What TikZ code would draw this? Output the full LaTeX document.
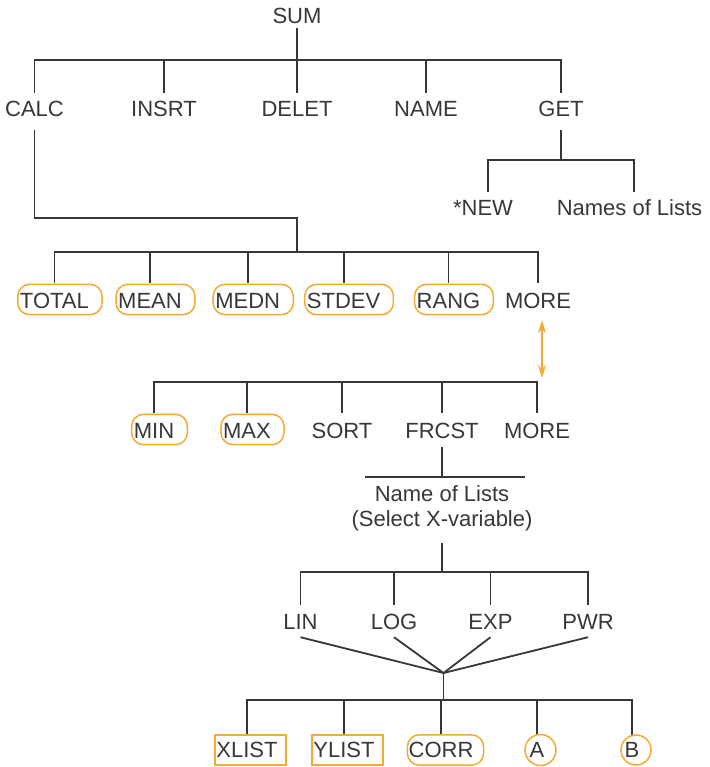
\documentclass[tikz,border=0pt]{standalone}
\usepackage{fontspec}
\setmainfont{Liberation Sans}
\usetikzlibrary{calc,arrows.meta}
\definecolor{ink}{RGB}{55,55,55}
\definecolor{hlor}{RGB}{243,170,52}
\begin{document}
\begin{tikzpicture}[x=1pt,y=-1pt,
  lab/.style={font=\fontsize{22}{25}\selectfont, text=ink, inner sep=0pt, text height=15pt, text depth=0pt},
  ln/.style={draw=ink, line width=1.8pt},
  hl/.style={draw=hlor, line width=1.5pt, rounded corners=12pt},
  hlbox/.style={draw=hlor, line width=1.5pt},
  oarr/.style={draw=hlor, line width=1.6pt, {Stealth[length=13pt,width=8pt]}-{Stealth[length=13pt,width=8pt]}}]
\useasboundingbox (0,0) rectangle (709,767);

% ---------- labels ----------
\node[lab] (sum) at (297,16) {SUM};
\node[lab] (calc) at (34.5,109) {CALC};
\node[lab] (insrt) at (164,109) {INSRT};
\node[lab] (delet) at (297,109) {DELET};
\node[lab] (name) at (426,109) {NAME};
\node[lab] (get) at (561,109) {GET};
\node[lab] (new) at (483,208) {*NEW};
\node[lab] (lists) at (629.5,208) {Names of Lists};

\node[lab] (total) at (54.4,301) {TOTAL};
\node[lab] (mean) at (150,301) {MEAN};
\node[lab] (medn) at (247.7,301) {MEDN};
\node[lab] (stdev) at (343.6,301) {STDEV};
\node[lab] (rang) at (448.5,301) {RANG};
\node[lab] (more) at (538,301) {MORE};

\node[lab] (min) at (154,431) {MIN};
\node[lab] (max) at (247,431) {MAX};
\node[lab] (sort) at (342,431) {SORT};
\node[lab] (frcst) at (442,431) {FRCST};
\node[lab] (moreb) at (537,431) {MORE};

\node[lab] (nla) at (442,494) {Name of Lists};
\node[lab] (nlb) at (442,519) {(Select X-variable)};

\node[lab] (lin) at (300.5,622) {LIN};
\node[lab] (log) at (394,622) {LOG};
\node[lab] (exp) at (490.5,622) {EXP};
\node[lab] (pwr) at (588,622) {PWR};

\node[lab] (xlist) at (247,750) {XLIST};
\node[lab] (ylist) at (344,750) {YLIST};
\node[lab] (corr) at (441,750) {CORR};
\node[lab] (a) at (537,750) {A};
\node[lab] (b) at (632,750) {B};

% ---------- junction coordinates ----------
\coordinate (j1) at (297,60);
\coordinate (c1) at (297,218);
\coordinate (j2) at (297,252);
\coordinate (g1) at (562,160);
\coordinate (b3) at (0,382);
\coordinate (b4) at (0,477);
\coordinate (b4l) at (365,477);
\coordinate (b4r) at (525,477);
\coordinate (b5) at (0,572);
\coordinate (jn) at (443.5,673);
\coordinate (b6) at (0,700);

% ---------- level 1 ----------
\draw[ln] ([yshift=-4.5pt]sum.south) -- (j1);
\draw[ln] ([yshift=8.5pt]calc.north) -- (calc |- j1) -- (get |- j1) -- ([yshift=8.5pt]get.north);
\foreach \n in {insrt,delet,name}
  \draw[ln] (\n |- j1) -- ([yshift=8.5pt]\n.north);

% ---------- GET subtree ----------
\draw[ln] ([yshift=-13.5pt]get.south) -- (get |- g1);
\draw[ln] ([xshift=5pt,yshift=8.5pt]new.north) -- ([xshift=5pt]new.north |- g1)
  -- ([xshift=4.5pt]lists.north |- g1) -- ([xshift=4.5pt,yshift=8.5pt]lists.north);

% ---------- CALC subtree ----------
\draw[ln] ([yshift=-13.5pt]calc.south) -- (calc |- c1) -- (c1) -- (j2);
\draw[ln] ([yshift=10.5pt]total.north) -- (total |- j2) -- (more |- j2) -- ([yshift=10.5pt]more.north);
\foreach \n in {mean,medn,stdev,rang}
  \draw[ln] (\n |- j2) -- ([yshift=10.5pt]\n.north);

% ---------- MORE link ----------
\draw[oarr, shorten >=4pt] ([xshift=4pt,yshift=-11.5pt]more.south) -- ([xshift=4pt]more.south |- b3);

% ---------- level 3 ----------
\draw[ln] ([yshift=10.5pt]min.north) -- (min |- b3) -- (moreb |- b3) -- ([yshift=10.5pt]moreb.north);
\foreach \n in {max,sort,frcst}
  \draw[ln] (\n |- b3) -- ([yshift=10.5pt]\n.north);

% ---------- FRCST ----------
\draw[ln] ([yshift=-8.5pt]frcst.south) -- (frcst |- b4);
\draw[ln] (b4l) -- (b4r);
\draw[ln] ([yshift=-16.5pt]nlb.south) -- (nlb |- b5);
\draw[ln] ([yshift=9.5pt]lin.north) -- (lin |- b5) -- (pwr |- b5) -- ([yshift=9.5pt]pwr.north);
\foreach \n in {log,exp}
  \draw[ln] (\n |- b5) -- ([yshift=9.5pt]\n.north);
\foreach \n in {lin,log,exp,pwr}
  \draw[ln] ([yshift=-7.5pt]\n.south) -- (jn);
\draw[ln] (jn) -- (jn |- b6);
\draw[ln] ([yshift=7.5pt]xlist.north) -- (xlist |- b6) -- (b |- b6) -- ([yshift=7.5pt]b.north);
\foreach \n in {ylist,corr,a}
  \draw[ln] (\n |- b6) -- ([yshift=7.5pt]\n.north);

% ---------- orange highlights ----------
\foreach \n in {total,mean,medn,stdev,rang,min,max}
  \draw[hl] ($(\n.north west)+(-2,-9)$) rectangle ($(\n.south east)+(13,6)$);
\foreach \n in {xlist,ylist}
  \draw[hlbox] ($(\n.north west)+(-1,-7.5)$) rectangle ($(\n.south east)+(8,7.5)$);
\draw[hl] ($(corr.north west)+(-1,-7.5)$) rectangle ($(corr.south east)+(10,7.5)$);
\draw[hlbox] ($(a)+(3.5,0)$) circle[radius=15.5pt];
\draw[hlbox] ($(b)+(4,0)$) circle[radius=15pt];
\end{tikzpicture}
\end{document}
